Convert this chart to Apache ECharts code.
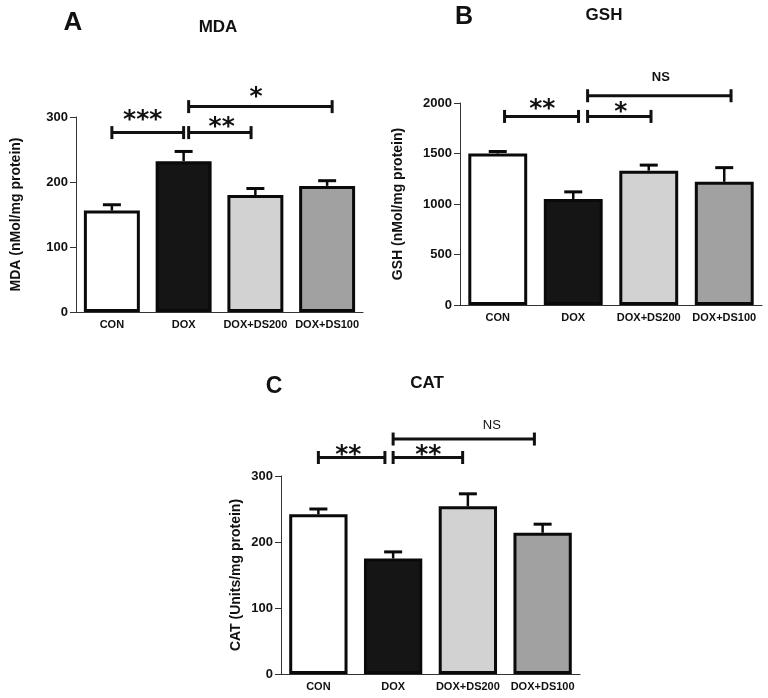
<!DOCTYPE html>
<html>
<head>
<meta charset="utf-8">
<script src="https://cdn.jsdelivr.net/npm/echarts@6/dist/echarts.min.js"></script>
<style>
html,body{margin:0;padding:0;background:#fff;}
#chart{width:768px;height:698px;}
</style>
</head>
<body>
<div id="chart"></div>
<script>
// ---- data ----
var categories = ['CON', 'DOX', 'DOX+DS200', 'DOX+DS100'];

var mdaValues = [156, 232, 180, 194];
var mdaErrors = [9, 15, 10, 8];
var gshValues = [1500, 1050, 1330, 1220];
var gshErrors = [20, 70, 55, 140];
var catValues = [242, 175, 254, 214];
var catErrors = [8, 10, 19, 13];

var mdaTicks = [0, 100, 200, 300];
var gshTicks = [0, 500, 1000, 1500, 2000];
var catTicks = [0, 100, 200, 300];

// significance brackets: [from (category units), to, y value]
var mdaBrackets = [[0, 1.0, 276], [1.07, 1.94, 276], [1.07, 3.07, 316]];
var mdaSigLabels = ['***', '**', '*'];
var mdaSigLabelX = [0.43, 1.53, 2.01];
var mdaSigLabelY = [306, 295, 341];

var gshBrackets = [[0.09, 1.07, 1867], [1.19, 2.03, 1867], [1.19, 3.09, 2072]];
var gshSigLabels = ['**', '*', 'NS'];
var gshSigLabelX = [0.59, 1.63, 2.16];
var gshSigLabelY = [2003, 1973, 2258];

var catBrackets = [[0, 0.89, 328], [1.0, 1.93, 328], [1.0, 2.89, 356]];
var catSigLabels = ['**', '**', 'NS'];
var catSigLabelX = [0.40, 1.47, 2.32];
var catSigLabelY = [342, 342, 376];

// ---- styles ----
var barColors = ['#ffffff', '#151515', '#d2d2d2', '#a1a1a1'];
var FONT = 'Liberation Sans, Arial, sans-serif';
var panels = [
  {name: 'MDA (nMol/mg protein)', values: mdaValues, errors: mdaErrors, ticks: mdaTicks,
   brackets: mdaBrackets, sig: mdaSigLabels, sx: mdaSigLabelX, sy: mdaSigLabelY,
   grid: {left: 76, top: 117, width: 287, height: 195}, nameGap: 53, nsBold: true},
  {name: 'GSH (nMol/mg protein)', values: gshValues, errors: gshErrors, ticks: gshTicks,
   brackets: gshBrackets, sig: gshSigLabels, sx: gshSigLabelX, sy: gshSigLabelY,
   grid: {left: 460, top: 103, width: 302, height: 202}, nameGap: 55, nsBold: true},
  {name: 'CAT (Units/mg protein)', values: catValues, errors: catErrors, ticks: catTicks,
   brackets: catBrackets, sig: catSigLabels, sx: catSigLabelX, sy: catSigLabelY,
   grid: {left: 281, top: 476, width: 299, height: 198}, nameGap: 38, nsBold: false}
];

var grids = [], xAxes = [], yAxes = [], series = [];
panels.forEach(function (p, k) {
  grids.push({left: p.grid.left, top: p.grid.top, width: p.grid.width, height: p.grid.height, containLabel: false});
  xAxes.push({
    type: 'category', gridIndex: k, data: categories,
    axisLine: {lineStyle: {color: '#333', width: 1}},
    axisTick: {alignWithLabel: true, length: 4, lineStyle: {color: '#333'}},
    axisLabel: {color: '#111', fontFamily: FONT, fontWeight: 'bold', fontSize: 11, margin: 7, interval: 0}
  });
  var tk = p.ticks;
  yAxes.push({
    type: 'value', gridIndex: k, min: tk[0], max: tk[tk.length - 1], interval: tk[1] - tk[0],
    name: p.name, nameLocation: 'middle', nameGap: p.nameGap,
    nameTextStyle: {color: '#111', fontFamily: FONT, fontWeight: 'bold', fontSize: 14},
    axisLine: {show: true, lineStyle: {color: '#333', width: 1}},
    axisTick: {show: true, length: 6, lineStyle: {color: '#333'}},
    axisLabel: {color: '#111', fontFamily: FONT, fontWeight: 'bold', fontSize: 13, margin: 8,
                formatter: function (v) { return String(v); }},
    splitLine: {show: false}
  });
  series.push({
    type: 'bar', xAxisIndex: k, yAxisIndex: k, barWidth: '78%', z: 2,
    data: p.values.map(function (v, i) {
      return {value: v, itemStyle: {color: barColors[i], borderColor: '#0a0a0a', borderWidth: 3}};
    }),
    animation: false
  });
  // error bars (upper half, GraphPad style)
  series.push({
    type: 'custom', xAxisIndex: k, yAxisIndex: k, z: 3, animation: false,
    data: p.values.map(function (v, i) { return [i, v, p.errors[i]]; }),
    renderItem: function (params, api) {
      var x = api.value(0), v = api.value(1), e = api.value(2);
      var p0 = api.coord([x, v]);
      var p1 = api.coord([x, v + e]);
      var hw = 9;
      return {type: 'group', children: [
        {type: 'line', shape: {x1: p0[0], y1: p0[1], x2: p1[0], y2: p1[1]}, style: {stroke: '#0a0a0a', lineWidth: 2.5}},
        {type: 'line', shape: {x1: p1[0] - hw, y1: p1[1], x2: p1[0] + hw, y2: p1[1]}, style: {stroke: '#0a0a0a', lineWidth: 3}}
      ]};
    }
  });
  // significance brackets
  series.push({
    type: 'custom', xAxisIndex: k, yAxisIndex: k, z: 4, animation: false, clip: false,
    data: p.brackets.map(function (b, i) { return [b[0], b[1], b[2], p.sx[i], p.sy[i]]; }),
    renderItem: function (params, api) {
      var bw = api.size([1, 0])[0];
      var x0 = api.coord([0, 0])[0];
      function px(c) { return x0 + c * bw; }
      var a = px(api.value(0)), b = px(api.value(1));
      var y = api.coord([0, api.value(2)])[1];
      var lx = px(api.value(3));
      var ly = api.coord([0, api.value(4)])[1];
      var lab = p.sig[params.dataIndex];
      var isStar = lab.indexOf('*') >= 0;
      var fs = isStar ? 25 : 13;
      var ch = 6.5;
      var font = isStar ? ('bold ' + fs + 'px DejaVu Sans') :
        ((p.nsBold ? 'bold ' : 'normal ') + fs + 'px Liberation Sans, Arial');
      return {type: 'group', children: [
        {type: 'line', shape: {x1: a, y1: y, x2: b, y2: y}, style: {stroke: '#111', lineWidth: 3}},
        {type: 'line', shape: {x1: a, y1: y - ch, x2: a, y2: y + ch}, style: {stroke: '#111', lineWidth: 3}},
        {type: 'line', shape: {x1: b, y1: y - ch, x2: b, y2: y + ch}, style: {stroke: '#111', lineWidth: 3}},
        {type: 'text', x: lx, y: isStar ? ly + 0.28 * fs : ly,
         style: {text: lab, fill: '#111', align: 'center', verticalAlign: 'middle', font: font}}
      ]};
    }
  });
});

function title(t, x, y, size) {
  return {type: 'text', x: x, y: y,
          style: {text: t, font: 'bold ' + size + 'px Liberation Sans, Arial', fill: '#111',
                  align: 'center', verticalAlign: 'middle'}};
}

var chart = echarts.init(document.getElementById('chart'), null, {renderer: 'canvas'});
chart.setOption({
  backgroundColor: '#ffffff',
  animation: false,
  grid: grids, xAxis: xAxes, yAxis: yAxes, series: series,
  graphic: [
    title('A', 73, 23, 26),
    title('MDA', 218, 27, 17),
    title('B', 464, 17, 25),
    title('GSH', 604, 15, 17),
    title('C', 274, 387, 23),
    title('CAT', 427, 383, 17)
  ]
});
</script>
</body>
</html>
